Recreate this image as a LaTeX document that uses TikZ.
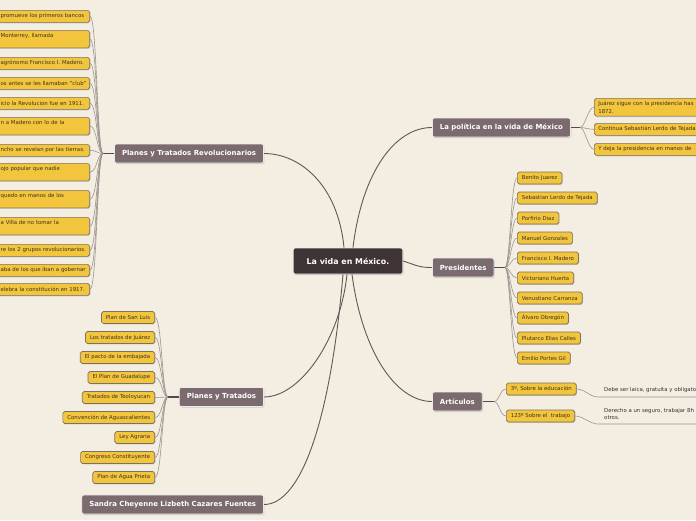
\documentclass[tikz,border=0pt]{standalone}
\usepackage{fontspec}
\setmainfont{DejaVu Sans}
\usetikzlibrary{calc,shadows}
\definecolor{paper}{HTML}{F3EDE2}
\definecolor{rootfill}{HTML}{3E3435}
\definecolor{topicfill}{HTML}{7B6B6E}
\definecolor{leaffill}{HTML}{F3C53C}
\definecolor{leafdraw}{HTML}{7A7262}
\definecolor{leaftext}{HTML}{3B3424}
\definecolor{branchgray}{HTML}{5E5858}
\definecolor{twiggray}{HTML}{9A9590}

\begin{document}
\begin{tikzpicture}[x=1pt,y=-1pt,
  root/.style={draw=white!92!black,line width=0.8pt,fill=rootfill,rounded corners=2pt,text=white,
    font=\fontsize{7.9}{9}\selectfont\bfseries,inner xsep=13.5pt,minimum height=26pt,
    drop shadow={shadow xshift=0.8pt,shadow yshift=-1pt,opacity=0.3}},
  topic/.style={draw=white!92!black,line width=0.8pt,fill=topicfill,rounded corners=2pt,text=white,
    font=\fontsize{6.95}{8}\selectfont\bfseries,inner xsep=7.5pt,minimum height=19pt,
    drop shadow={shadow xshift=0.8pt,shadow yshift=-1pt,opacity=0.3}},
  leaf/.style={draw=leafdraw,line width=0.7pt,fill=leaffill,rounded corners=1.8pt,text=leaftext,
    font=\fontsize{5.4}{7.4}\selectfont,inner xsep=4.5pt,inner ysep=3pt,minimum height=12pt,
    drop shadow={shadow xshift=0.7pt,shadow yshift=-0.9pt,opacity=0.35}},
  cutleft/.style={leaf,anchor=north east,text width=86pt,align=left,inner xsep=3pt},
  cutright/.style={leaf,anchor=north west,text width=140pt,align=left,inner xsep=4pt},
  note/.style={text=black!80,font=\fontsize{5.4}{7.4}\selectfont,inner sep=0pt,align=left},
  branch/.style={draw=branchgray,line width=0.9pt},
  stem/.style={draw=branchgray!85!black,line width=1.1pt},
  twig/.style={draw=twiggray,line width=0.6pt},
]
\useasboundingbox (0,0) rectangle (696,520);
\fill[paper] (0,0) rectangle (696,520);
\clip (0,0) rectangle (696,520);

% centre and main topics
\node[root] (ctr) at (348,261) {La vida en México.};
\node[topic,anchor=east] (ptr) at (264,153.5) {Planes y Tratados Revolucionarios};
\node[topic,anchor=west] (pol) at (432,127.5) {La política en la vida de México};
\node[topic,anchor=west] (pres) at (432,267.5) {Presidentes};
\node[topic,anchor=west] (art) at (432,401.5) {Artículos};
\node[topic,anchor=east] (pyt) at (264,397) {Planes y Tratados};
\node[topic,anchor=east] (autor) at (264,504.5) {Sandra Cheyenne Lizbeth Cazares Fuentes};

\draw[branch] ($(ctr.north)+(-4,0)$) .. controls (338,185) and (300,153.5) .. (ptr.east);
\draw[branch] ($(ctr.north)+(5,0)$) .. controls (362,172) and (395,127.5) .. (pol.west);
\draw[branch] (ctr.east) .. controls (418,266) and (420,267.5) .. (pres.west);
\draw[branch] ($(ctr.south)+(4,0)$) .. controls (362,350) and (395,401.5) .. (art.west);
\draw[branch] ($(ctr.south)+(-1,0)$) .. controls (340,340) and (300,397) .. (pyt.east);
\draw[branch] ($(ctr.south)+(-5,0)$) .. controls (330,425) and (300,504.5) .. (autor.east);

% Planes y Tratados Revolucionarios
\node[cutleft] (r1) at (90,10) {promueve los primeros bancos};
\node[cutleft] (r2) at (90,30) {Monterrey, llamada\\\mbox{}};
\node[cutleft] (r3) at (90,57) {agrónomo Francisco I. Madero.};
\node[cutleft] (r4) at (90,77) {os antes se les llamaban "club"};
\node[cutleft] (r5) at (90,97) {icio la Revolucion fue en 1911.};
\node[cutleft] (r6) at (90,117) {n a Madero con lo de la\\\mbox{}};
\node[cutleft] (r7) at (90,144) {ncho se revelan por las tierras.};
\node[cutleft] (r8) at (90,163) {ojo popular que nadie\\\mbox{}};
\node[cutleft] (r9) at (90,190) {quedo en manos de los\\\mbox{}};
\node[cutleft] (r10) at (90,217) {a Villa de no tomar la\\\mbox{}};
\node[cutleft] (r11) at (90,244) {re los 2 grupos revolucionarios.};
\node[cutleft] (r12) at (90,264) {aba de los que iban a gobernar};
\node[cutleft] (r13) at (90,283) {elebra la constitución en 1917.};
\coordinate (ptrhub) at (103,153.5);
\draw[stem] (ptr.west) -- (ptrhub);
\foreach \n in {1,...,13}
  \draw[twig] (ptrhub) .. controls +(-6,0) and +(7,0) .. (r\n.east);

% La política en la vida de México
\node[cutright] (p1) at (594,98) {Juárez sigue con la presidencia has\\1872.};
\node[cutright] (p2) at (594,123) {Continua Sebastián Lerdo de Tejada};
\node[cutright] (p3) at (594,143) {Y deja la presidencia en manos de};
\coordinate (polhub) at (580,127.5);
\draw[stem] (pol.east) -- (polhub);
\foreach \n in {1,2,3}
  \draw[twig] (polhub) .. controls +(5,0) and +(-6,0) .. (p\n.west);

% Presidentes
\foreach \n/\name [count=\i from 0] in {1/Benito Juarez,2/Sebastian Lerdo de Tejada,3/Porfirio Diaz,
    4/Manuel Gonzales,5/Francisco I. Madero,6/Victoriano Huerta,7/Venustiano Carranza,
    8/Álvaro Obregón,9/Plutarco Elias Calles,10/Emilio Portes Gil}
  \node[leaf,anchor=west] (q\n) at (517,178+20*\i) {\name};
\coordinate (preshub) at (505,267.5);
\draw[stem] (pres.east) -- (preshub);
\foreach \n in {1,...,10}
  \draw[twig] (preshub) .. controls +(5,0) and +(-6,0) .. (q\n.west);

% Artículos
\node[leaf,anchor=west] (a1) at (506,389) {3º, Sobre la educación};
\node[leaf,anchor=west] (a2) at (506,416) {123º Sobre el\ \ trabajo};
\coordinate (arthub) at (494,401.5);
\draw[stem] (art.east) -- (arthub);
\foreach \n in {1,2}
  \draw[twig] (arthub) .. controls +(5,0) and +(-6,0) .. (a\n.west);
\node[note,anchor=west] (n1) at (604,390) {Debe ser laica, gratuita y obligatoria};
\node[note,anchor=north west] (n2) at (604,408) {Derecho a un seguro, trabajar 8h\\otros.};
\coordinate (n1end) at (700,397);
\coordinate (n2end) at (700,424);
\draw[twig] (a1.east) .. controls +(8,0) and (590,397) .. (598,397) -- (n1end);
\draw[twig] (a2.east) .. controls +(8,0) and (590,424) .. (598,424) -- (n2end);

% Planes y Tratados
\foreach \n/\name [count=\i from 0] in {1/Plan de San Luis,2/Los tratados de Juárez,
    3/El pacto de la embajada,4/El Plan de Guadalupe,5/Tratados de Teoloyucan,
    6/Convención de Aguascalientes,7/Ley Agraria,8/Congreso Constituyente,9/Plan de Agua Prieta}
  \node[leaf,anchor=east] (t\n) at (155,317.5+20*\i) {\name};
\coordinate (pythub) at (168,397);
\draw[stem] (pyt.west) -- (pythub);
\foreach \n in {1,...,9}
  \draw[twig] (pythub) .. controls +(-6,0) and +(7,0) .. (t\n.east);
\end{tikzpicture}
\end{document}
